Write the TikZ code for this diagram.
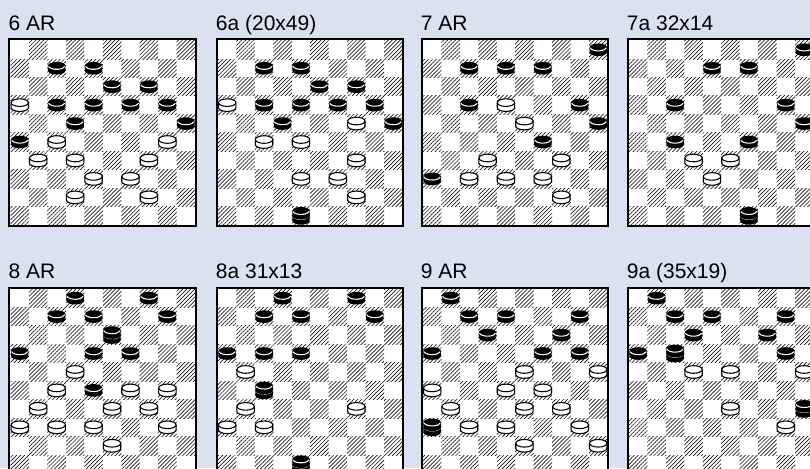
\documentclass[tikz,border=0pt]{standalone}
\usepackage{fontspec}
\setmainfont{Liberation Sans}
\usetikzlibrary{patterns.meta}

\definecolor{bgblue}{RGB}{218,226,242}
\def\sq{18.45}

\tikzset{
  darksq/.style={pattern={Lines[angle=45,distance=2.1pt,line width=0.5pt]}, pattern color=black!90},
  boardframe/.style={draw=black, line width=1.5pt},
  boardlabel/.style={anchor=base west, inner sep=0pt, font=\fontsize{15.75}{18}\selectfont},
  blackman/.pic={
    \fill[black] (-8.7,2.5) arc[start angle=180,end angle=0,x radius=8.7,y radius=3.8]
      -- (8.7,-2.5) arc[start angle=0,end angle=-180,x radius=8.7,y radius=3.8] -- cycle;
    \draw[white, line width=0.8pt] (-8.08,1.87) arc[start angle=190,end angle=350,x radius=8.2,y radius=3.6];
  },
  whiteman/.pic={
    \filldraw[fill=white, draw=black, line width=0.8pt] (-8.7,2.5) arc[start angle=180,end angle=0,x radius=8.7,y radius=3.8]
      -- (8.7,-2.5) arc[start angle=0,end angle=-180,x radius=8.7,y radius=3.8] -- cycle;
    \draw[black, line width=0.8pt] (-8.7,2.5) arc[start angle=180,end angle=360,x radius=8.7,y radius=3.8];
  },
  blackking/.pic={
    \pic at (0,-2.5) {blackman};
    \pic at (0,2.5) {blackman};
  }
}

% #1,#2 top left corner (px, y down), #3 name, #4 label, #5 men, #6 kings, #7 white men
\newcommand{\drawboard}[7]{%
  \begin{scope}[shift={(#1,-#2)}]
    \fill[white] (1,-1) rectangle (187.5,-187.5);
    \foreach \r [evaluate=\r as \off using {1-mod(\r,2)}] in {0,...,9}
      \foreach \c in {0,2,...,8}
        \fill[darksq] ({2.25+(\c+\off)*\sq},{-2.25-\r*\sq}) rectangle ++(\sq,-\sq);
    \draw[boardframe] (1,-1) rectangle (187.5,-187.5);
    \node[boardlabel] (#3) at (0,8.3) {#4};
    \if\relax\detokenize{#5}\relax\else
      \foreach \r/\c in {#5} \pic at ({2.25+(\c+0.5)*\sq},{-2.25-(\r+0.5)*\sq}) {blackman};
    \fi
    \if\relax\detokenize{#6}\relax\else
      \foreach \r/\c in {#6} \pic at ({2.25+(\c+0.5)*\sq},{-2.25-(\r+0.5)*\sq}) {blackking};
    \fi
    \if\relax\detokenize{#7}\relax\else
      \foreach \r/\c in {#7} \pic at ({2.25+(\c+0.5)*\sq},{-2.25-(\r+0.5)*\sq}) {whiteman};
    \fi
  \end{scope}%
}

\begin{document}
\begin{tikzpicture}[x=0.75pt, y=0.75pt]
\useasboundingbox (0,0) rectangle (810,-468);
\clip (0,0) rectangle (810,-468);
\fill[bgblue] (0,0) rectangle (810,-468);

% top row
\drawboard{8.3}{38.3}{lab6}{6 AR}
  {1/2,1/4,2/5,2/7,3/2,3/4,3/6,3/8,4/3,4/9,5/0}{}
  {3/0,5/2,5/8,6/1,6/3,6/7,7/4,7/6,8/3,8/7}
\drawboard{215.7}{38.3}{lab6a}{6a (20x49)}
  {1/2,1/4,2/5,2/7,3/2,3/4,3/6,3/8,4/3,4/9}{9/4}
  {3/0,4/7,5/2,5/4,6/7,7/4,7/6,8/7}
\drawboard{420.7}{38.3}{lab7}{7 AR}
  {0/9,1/2,1/4,1/6,3/2,3/8,4/9,5/6,7/0}{}
  {3/4,4/5,6/3,6/7,7/2,7/4,7/6,8/7}
\drawboard{626.7}{38.3}{lab7a}{7a 32x14}
  {0/9,1/4,1/6,3/2,3/8,4/9,5/2,5/6}{9/6}
  {6/3,6/5,7/4}

% bottom row
\drawboard{8.3}{286.7}{lab8}{8 AR}
  {0/3,0/7,1/2,1/4,1/8,3/0,3/4,3/6,5/4}{2/5}
  {4/3,5/2,5/6,5/8,6/1,6/5,6/7,7/0,7/2,7/4,7/8,8/5}
\drawboard{215.7}{286.7}{lab8a}{8a 31x13}
  {0/3,0/7,1/2,1/4,1/8,3/0,3/2,3/4}{5/2,9/4}
  {4/1,6/1,6/7,7/0,7/2}
\drawboard{420.7}{286.7}{lab9}{9 AR}
  {0/1,1/2,1/4,1/8,2/3,2/7,3/0,3/6,3/8}{7/0}
  {4/5,4/9,5/0,5/4,5/6,6/1,6/5,6/7,7/2,7/4,7/8,8/5,8/9}
\drawboard{626.7}{286.7}{lab9a}{9a (35x19)}
  {0/1,1/2,1/4,1/8,2/3,2/7,3/0,3/8}{3/2,6/9}
  {4/3,4/5,4/9,6/5,7/8}

\end{tikzpicture}
\end{document}
